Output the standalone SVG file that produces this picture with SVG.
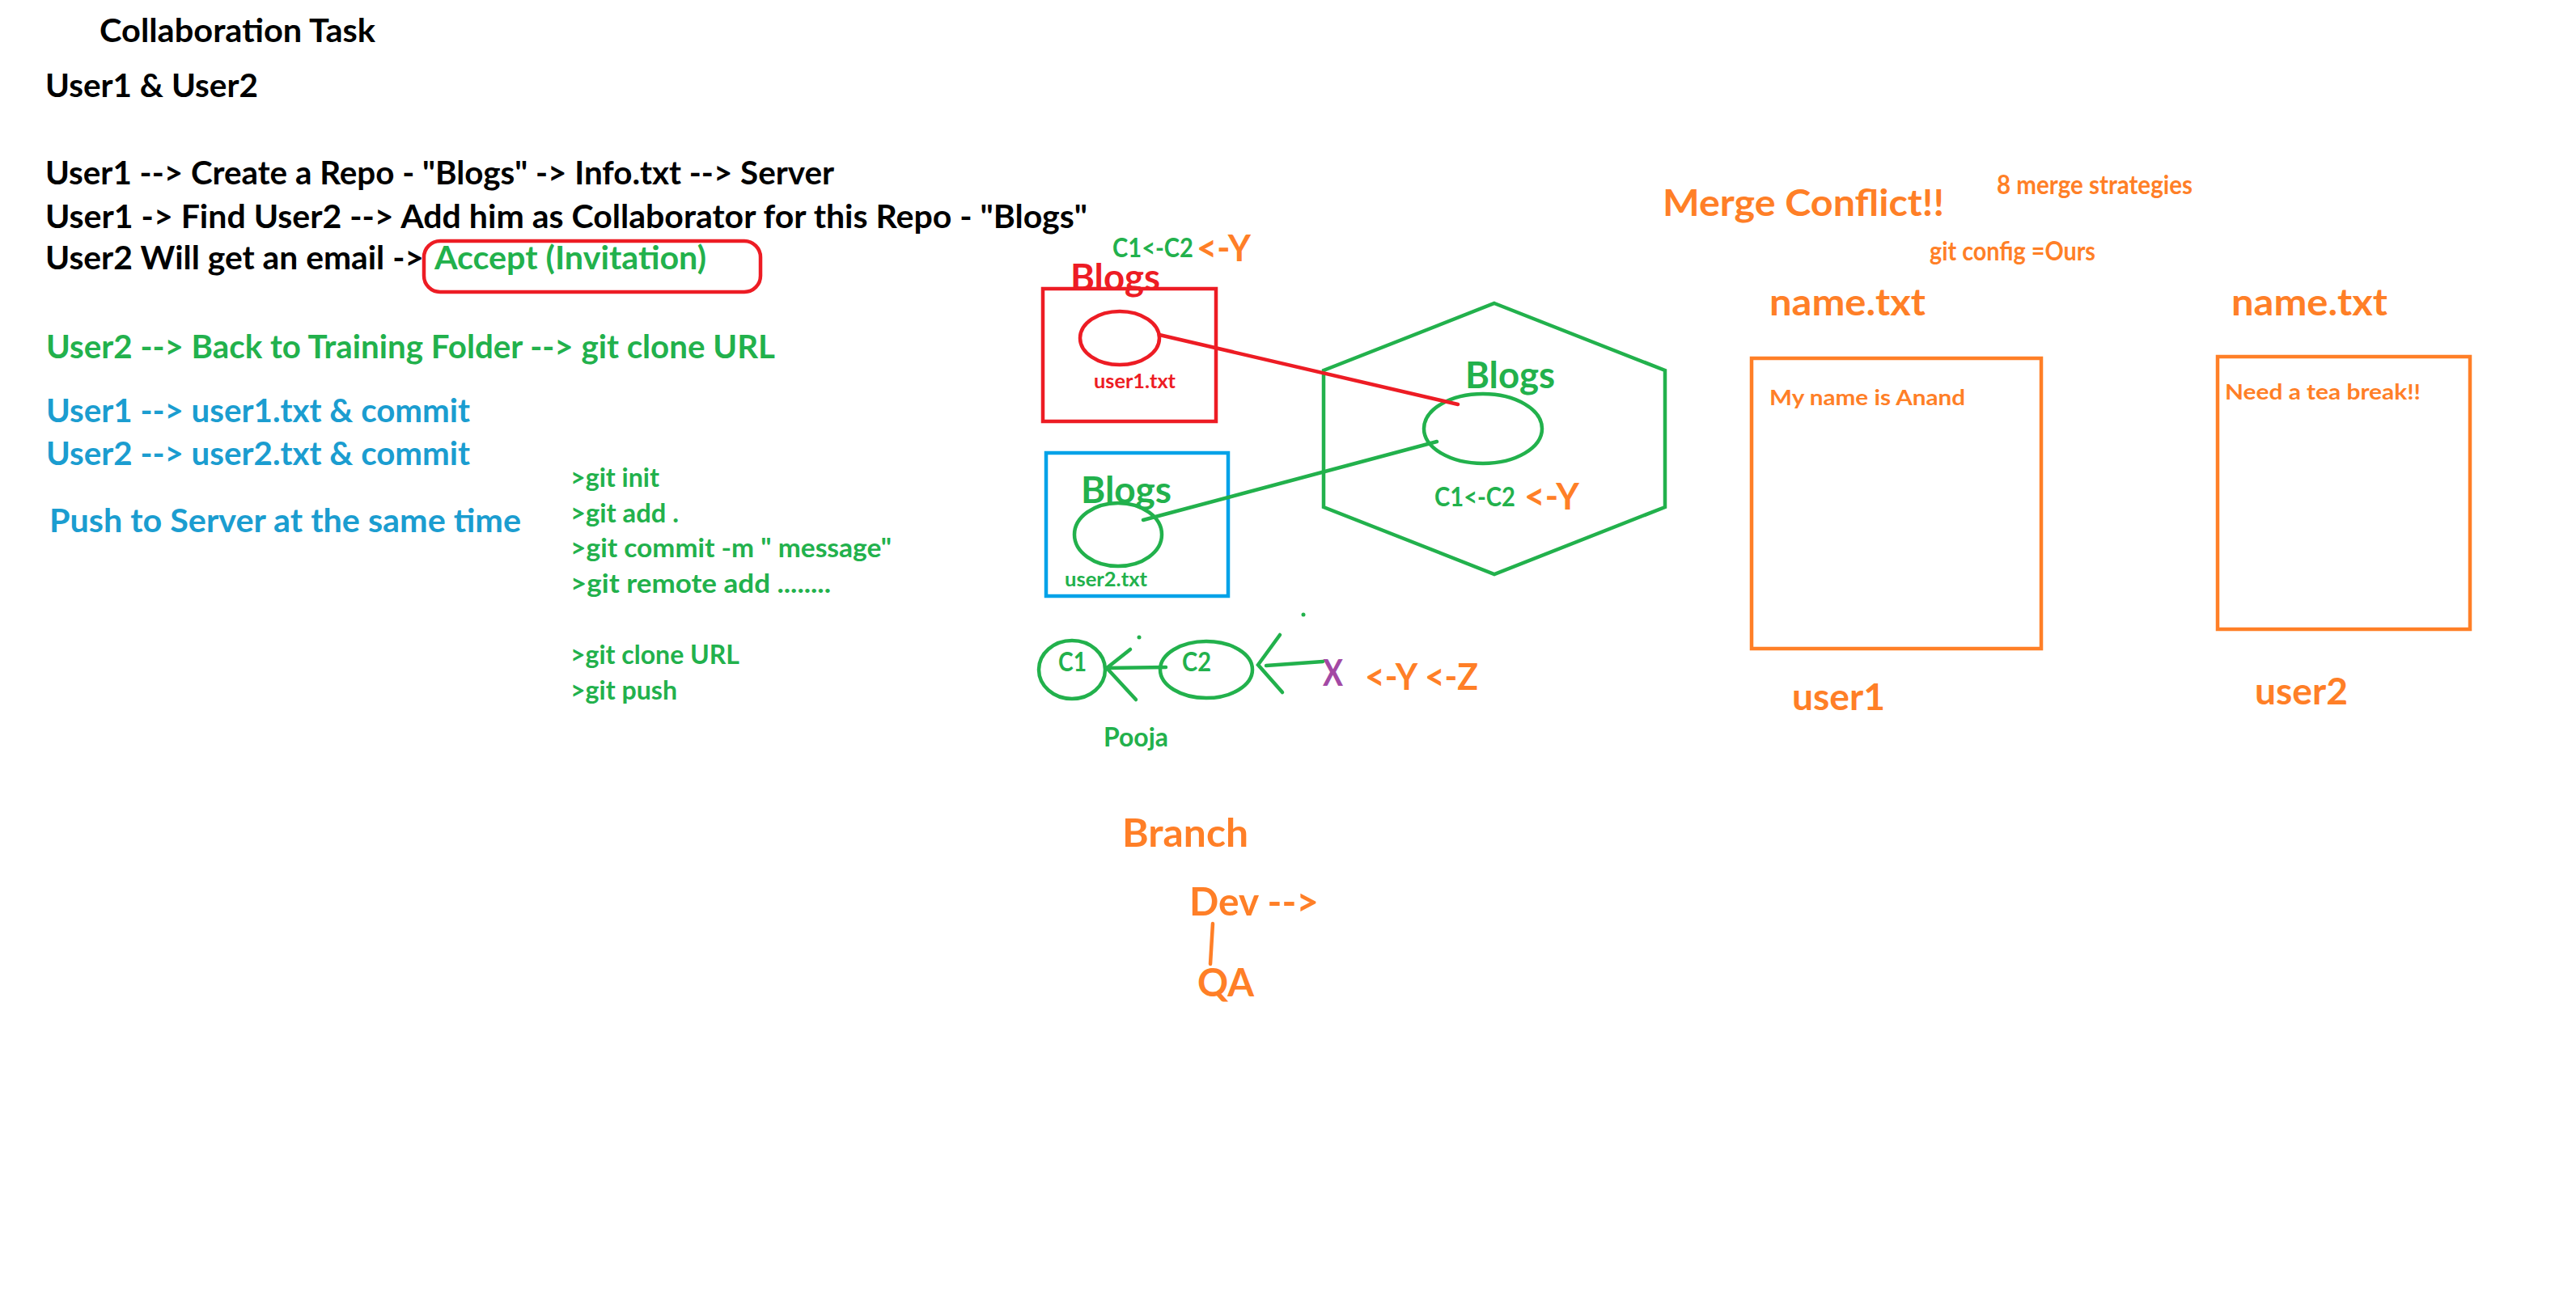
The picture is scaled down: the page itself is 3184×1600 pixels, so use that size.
<svg xmlns="http://www.w3.org/2000/svg" width="3184" height="1600" viewBox="0 0 3184 1600">
<style>
text{font-family:Lato,"Liberation Sans","Noto Sans",sans-serif;font-weight:bold}
.k{fill:#000}
.g{fill:#22b14c}
.b{fill:#1b9dd0}
.r{fill:#ed1c24}
.o{fill:#ff7f27}
.p{fill:#a349a4}
.s44{font-size:39.5px}
.s35{font-size:31.5px}
.s50{font-size:45px}
.s52{font-size:46.5px}
.s27{font-size:24px}
.s30{font-size:27px}
.s54{font-size:48.5px}
.sr{fill:none;stroke:#ed1c24;stroke-width:4.5}
.sg{fill:none;stroke:#22b14c;stroke-width:4.5}
.sb{fill:none;stroke:#00a2e8;stroke-width:4.5}
.so{fill:none;stroke:#ff7f27;stroke-width:4.5}
</style>
<rect width="3184" height="1600" fill="#fff"/>

<g id="notes-left">
<text class="k s44" x="123" y="52" textLength="341" lengthAdjust="spacingAndGlyphs">Collaboration Task</text>
<text class="k s44" x="56" y="120" textLength="263" lengthAdjust="spacingAndGlyphs">User1 &amp; User2</text>
<text class="k s44" x="56" y="228" textLength="975" lengthAdjust="spacingAndGlyphs">User1 --&gt; Create a Repo - "Blogs" -&gt; Info.txt --&gt; Server</text>
<text class="k s44" x="56" y="282" textLength="1288" lengthAdjust="spacingAndGlyphs">User1 -&gt; Find User2 --&gt; Add him as Collaborator for this Repo - "Blogs"</text>
<text class="k s44" x="56" y="333" textLength="468" lengthAdjust="spacingAndGlyphs">User2 Will get an email -&gt;</text>
<text class="g s44" x="537" y="333" textLength="336" lengthAdjust="spacingAndGlyphs">Accept (Invitation)</text>
<text class="g s44" x="57" y="443" textLength="901" lengthAdjust="spacingAndGlyphs">User2 --&gt; Back to Training Folder --&gt; git clone URL</text>
<text class="b s44" x="57" y="522" textLength="524" lengthAdjust="spacingAndGlyphs">User1 --&gt; user1.txt &amp; commit</text>
<text class="b s44" x="57" y="575" textLength="524" lengthAdjust="spacingAndGlyphs">User2 --&gt; user2.txt &amp; commit</text>
<text class="b s44" x="61" y="658" textLength="583" lengthAdjust="spacingAndGlyphs">Push to Server at the same time</text>
</g>

<g id="accept-box">
<rect class="sr" x="524" y="298" width="416" height="63" rx="20"/>
</g>

<g id="git-commands">
<text class="g s35" x="705" y="602" textLength="110" lengthAdjust="spacingAndGlyphs">&gt;git init</text>
<text class="g s35" x="705" y="646" textLength="134" lengthAdjust="spacingAndGlyphs">&gt;git add .</text>
<text class="g s35" x="705" y="689" textLength="397" lengthAdjust="spacingAndGlyphs">&gt;git commit -m " message"</text>
<text class="g s35" x="705" y="733" textLength="322" lengthAdjust="spacingAndGlyphs">&gt;git remote add ........</text>
<text class="g s35" x="705" y="821" textLength="209" lengthAdjust="spacingAndGlyphs">&gt;git clone URL</text>
<text class="g s35" x="705" y="865" textLength="132" lengthAdjust="spacingAndGlyphs">&gt;git push</text>
</g>

<g id="top-label">
<text class="g s35" x="1375" y="318" textLength="100" lengthAdjust="spacingAndGlyphs">C1&lt;-C2</text>
<text class="o s52" x="1479" y="323" textLength="67" lengthAdjust="spacingAndGlyphs">&lt;-Y</text>
</g>

<g id="user1-repo">
<rect class="sr" x="1289" y="357" width="214" height="164"/>
<text class="r s50" x="1323" y="359" textLength="111" lengthAdjust="spacingAndGlyphs">Blogs</text>
<ellipse class="sr" cx="1384" cy="418" rx="49" ry="33"/>
<text class="r s27" x="1352" y="480" textLength="101" lengthAdjust="spacingAndGlyphs">user1.txt</text>
</g>

<g id="user2-repo">
<rect class="sb" x="1293" y="560" width="225" height="177"/>
<text class="g s50" x="1336" y="622" textLength="112" lengthAdjust="spacingAndGlyphs">Blogs</text>
<ellipse class="sg" cx="1382" cy="661" rx="54" ry="39"/>
<text class="g s27" x="1316" y="725" textLength="102" lengthAdjust="spacingAndGlyphs">user2.txt</text>
</g>

<g id="server">
<polygon class="sg" points="1847,375 2058,458 2058,627 1847,710 1636,627 1636,458"/>
<text class="g s50" x="1811" y="480" textLength="111" lengthAdjust="spacingAndGlyphs">Blogs</text>
<ellipse class="sg" cx="1833" cy="530" rx="73" ry="43"/>
<text class="g s35" x="1773" y="626" textLength="100" lengthAdjust="spacingAndGlyphs">C1&lt;-C2</text>
<text class="o s52" x="1884" y="630" textLength="68" lengthAdjust="spacingAndGlyphs">&lt;-Y</text>
</g>

<g id="commit-c1">
<ellipse class="sg" cx="1325" cy="828" rx="41" ry="36"/>
<text class="g s35" x="1308" y="830" textLength="35" lengthAdjust="spacingAndGlyphs">C1</text>
</g>
<g id="commit-c2">
<ellipse class="sg" cx="1491" cy="828" rx="57" ry="35"/>
<text class="g s35" x="1461" y="830" textLength="36" lengthAdjust="spacingAndGlyphs">C2</text>
</g>
<g id="commit-x">
<text class="p s50" x="1635" y="848" textLength="25" lengthAdjust="spacingAndGlyphs">X</text>
<text class="o s50" x="1687" y="853" textLength="140" lengthAdjust="spacingAndGlyphs">&lt;-Y &lt;-Z</text>
</g>
<g id="pooja">
<text class="g s35" x="1364" y="923" textLength="80" lengthAdjust="spacingAndGlyphs">Pooja</text>
</g>

<g id="merge-conflict">
<text class="o s52" x="2055" y="267" textLength="348" lengthAdjust="spacingAndGlyphs">Merge Conflict!!</text>
<text class="o s35" x="2468" y="240" textLength="242" lengthAdjust="spacingAndGlyphs">8 merge strategies</text>
<text class="o s35" x="2385" y="322" textLength="205" lengthAdjust="spacingAndGlyphs">git config =Ours</text>
</g>

<g id="user1-file">
<text class="o s50" x="2187" y="390" textLength="193" lengthAdjust="spacingAndGlyphs">name.txt</text>
<rect class="so" x="2165" y="443" width="358" height="359"/>
<text class="o s30" x="2187" y="501" textLength="242" lengthAdjust="spacingAndGlyphs">My name is Anand</text>
<text class="o s50" x="2215" y="878" textLength="115" lengthAdjust="spacingAndGlyphs">user1</text>
</g>

<g id="user2-file">
<text class="o s50" x="2758" y="390" textLength="193" lengthAdjust="spacingAndGlyphs">name.txt</text>
<rect class="so" x="2741" y="441" width="312" height="337"/>
<text class="o s30" x="2750" y="494" textLength="242" lengthAdjust="spacingAndGlyphs">Need a tea break!!</text>
<text class="o s50" x="2787" y="871" textLength="115" lengthAdjust="spacingAndGlyphs">user2</text>
</g>

<g id="branch">
<text class="o s54" x="1387" y="1047" textLength="156" lengthAdjust="spacingAndGlyphs">Branch</text>
</g>
<g id="dev">
<text class="o s54" x="1470" y="1132" textLength="160" lengthAdjust="spacingAndGlyphs">Dev --&gt;</text>
</g>
<g id="qa">
<text class="o s54" x="1480" y="1232" textLength="70" lengthAdjust="spacingAndGlyphs">QA</text>
</g>

<g id="connectors" stroke-linecap="round" fill="none">
<line x1="1433" y1="414" x2="1802" y2="500" stroke="#ed1c24" stroke-width="4.5"/>
<line x1="1413" y1="643" x2="1776" y2="546" stroke="#22b14c" stroke-width="4.5"/>
<line x1="1441" y1="825" x2="1368" y2="826" stroke="#22b14c" stroke-width="4.5"/>
<polyline points="1397,803 1368,826 1404,865" stroke="#22b14c" stroke-width="4.5"/>
<line x1="1635" y1="818" x2="1565" y2="823" stroke="#22b14c" stroke-width="4.5"/>
<polyline points="1582,785 1555,822 1585,856" stroke="#22b14c" stroke-width="4.5"/>
<line x1="1499" y1="1142" x2="1496" y2="1192" stroke="#ff7f27" stroke-width="4.5"/>
<circle cx="1408" cy="788" r="2.5" fill="#22b14c"/>
<circle cx="1611" cy="760" r="2.5" fill="#22b14c"/>
</g>
</svg>
